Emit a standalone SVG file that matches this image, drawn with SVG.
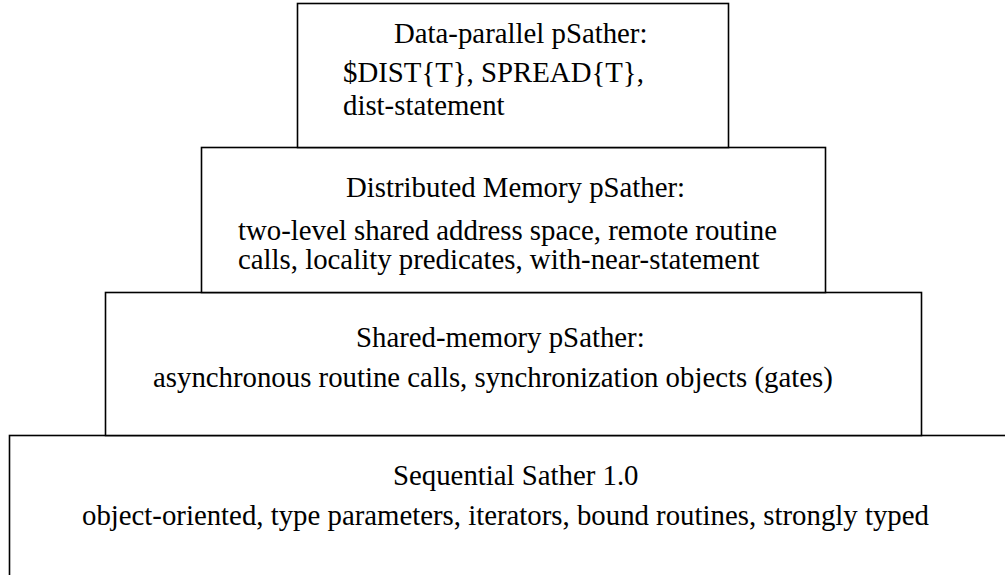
<svg xmlns="http://www.w3.org/2000/svg" width="1005" height="575" viewBox="0 0 1005 575">
<style>
.box{fill:#fff;stroke:#000;stroke-width:1.6}
.t{font-family:"Liberation Serif","Times New Roman",serif;font-size:28.8px;fill:#000}
</style>
<rect width="1005" height="575" fill="#fff"/>
<g id="sequential">
<rect class="box" x="9.5" y="435.5" width="1100" height="200"/>
<text class="t" x="393" y="485">Sequential Sather 1.0</text>
<text class="t" x="82" y="525">object-oriented, type parameters, iterators, bound routines, strongly typed</text>
</g>
<g id="shared">
<rect class="box" x="105.5" y="292.5" width="816" height="143"/>
<text class="t" x="356" y="347">Shared-memory pSather:</text>
<text class="t" x="153" y="387">asynchronous routine calls, synchronization objects (gates)</text>
</g>
<g id="distributed">
<rect class="box" x="201.5" y="147.5" width="624" height="145"/>
<text class="t" x="346" y="197">Distributed Memory pSather:</text>
<text class="t" x="238" y="240">two-level shared address space, remote routine</text>
<text class="t" x="238" y="269">calls, locality predicates, with-near-statement</text>
</g>
<g id="dataparallel">
<rect class="box" x="297.5" y="3.5" width="431" height="144"/>
<text class="t" x="394" y="43">Data-parallel pSather:</text>
<text class="t" x="343" y="82">$DIST{T}, SPREAD{T},</text>
<text class="t" x="343" y="115">dist-statement</text>
</g>
<g id="connectors"/>
</svg>
